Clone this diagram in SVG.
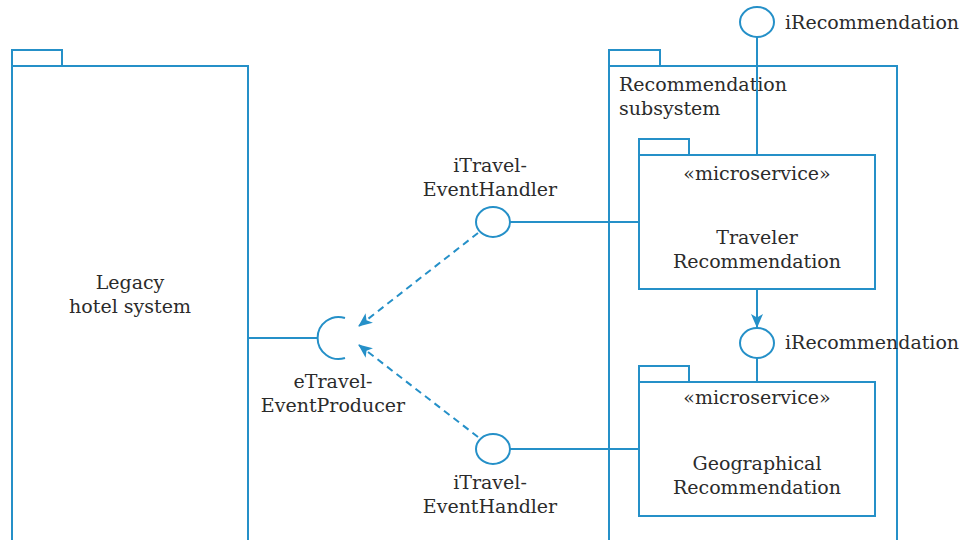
<svg xmlns="http://www.w3.org/2000/svg" width="965" height="540" viewBox="0 0 965 540">
<defs>
<style>
.ln{fill:none;stroke:#2590c8;stroke-width:2}
.bx{fill:#fff;stroke:#2590c8;stroke-width:2}
.ds{fill:none;stroke:#2590c8;stroke-width:2;stroke-dasharray:7,5}
text{font-family:"DejaVu Serif","Liberation Serif",serif;font-size:19px;fill:#2b2b2b}
.c{text-anchor:middle}
</style>
<marker id="ah" viewBox="0 0 14 12" refX="13" refY="6" markerWidth="14" markerHeight="12" markerUnits="userSpaceOnUse" orient="auto">
<path d="M0,0 L14,6 L0,12 L3.5,6 Z" fill="#2590c8"/>
</marker>
</defs>
<g id="legacy">
<rect class="bx" x="12" y="50" width="50" height="16"/>
<rect class="bx" x="12" y="66" width="236" height="490"/>
<text class="c" x="130" y="289">Legacy</text>
<text class="c" x="130" y="313">hotel system</text>
</g>
<g id="recsub">
<rect class="bx" x="609" y="50" width="51" height="16"/>
<rect class="bx" x="609" y="66" width="288" height="490"/>
<text x="619" y="91">Recommendation</text>
<text x="619" y="115">subsystem</text>
</g>
<g id="traveler">
<rect class="bx" x="639" y="139" width="50" height="16"/>
<rect class="bx" x="639" y="155" width="236" height="134"/>
<text class="c" x="757" y="180">«microservice»</text>
<text class="c" x="757" y="244">Traveler</text>
<text class="c" x="757" y="268">Recommendation</text>
</g>
<g id="geo">
<rect class="bx" x="639" y="366" width="50" height="16"/>
<rect class="bx" x="639" y="382" width="236" height="134"/>
<text class="c" x="757" y="404">«microservice»</text>
<text class="c" x="757" y="470">Geographical</text>
<text class="c" x="757" y="494">Recommendation</text>
</g>
<g id="connectors">
<line class="ln" x1="757" y1="37" x2="757" y2="155"/>
<line class="ln" x1="757" y1="289" x2="757" y2="327" marker-end="url(#ah)"/>
<line class="ln" x1="757" y1="358" x2="757" y2="382"/>
<line class="ln" x1="510" y1="222" x2="639" y2="222"/>
<line class="ln" x1="510" y1="449" x2="639" y2="449"/>
<line class="ln" x1="248" y1="338" x2="317" y2="338"/>
<line class="ds" x1="478" y1="233" x2="359" y2="326" marker-end="url(#ah)"/>
<line class="ds" x1="478" y1="437" x2="359" y2="345" marker-end="url(#ah)"/>
</g>
<g id="iRecTop">
<ellipse class="ln" cx="757" cy="22" rx="17" ry="15"/>
<text x="785" y="29">iRecommendation</text>
</g>
<g id="iRecMid">
<ellipse class="ln" cx="757" cy="343" rx="17" ry="15"/>
<text x="785" y="349">iRecommendation</text>
</g>
<g id="iTravelTop">
<ellipse class="ln" cx="493" cy="222" rx="17" ry="15"/>
<text class="c" x="490" y="172">iTravel-</text>
<text class="c" x="490" y="196">EventHandler</text>
</g>
<g id="iTravelBot">
<ellipse class="ln" cx="493" cy="449" rx="17" ry="15"/>
<text class="c" x="490" y="489">iTravel-</text>
<text class="c" x="490" y="513">EventHandler</text>
</g>
<g id="eTravel">
<path class="ln" d="M345,318 A21,21 0 1 0 345,358"/>
<text class="c" x="333" y="388">eTravel-</text>
<text class="c" x="333" y="412">EventProducer</text>
</g>
</svg>
